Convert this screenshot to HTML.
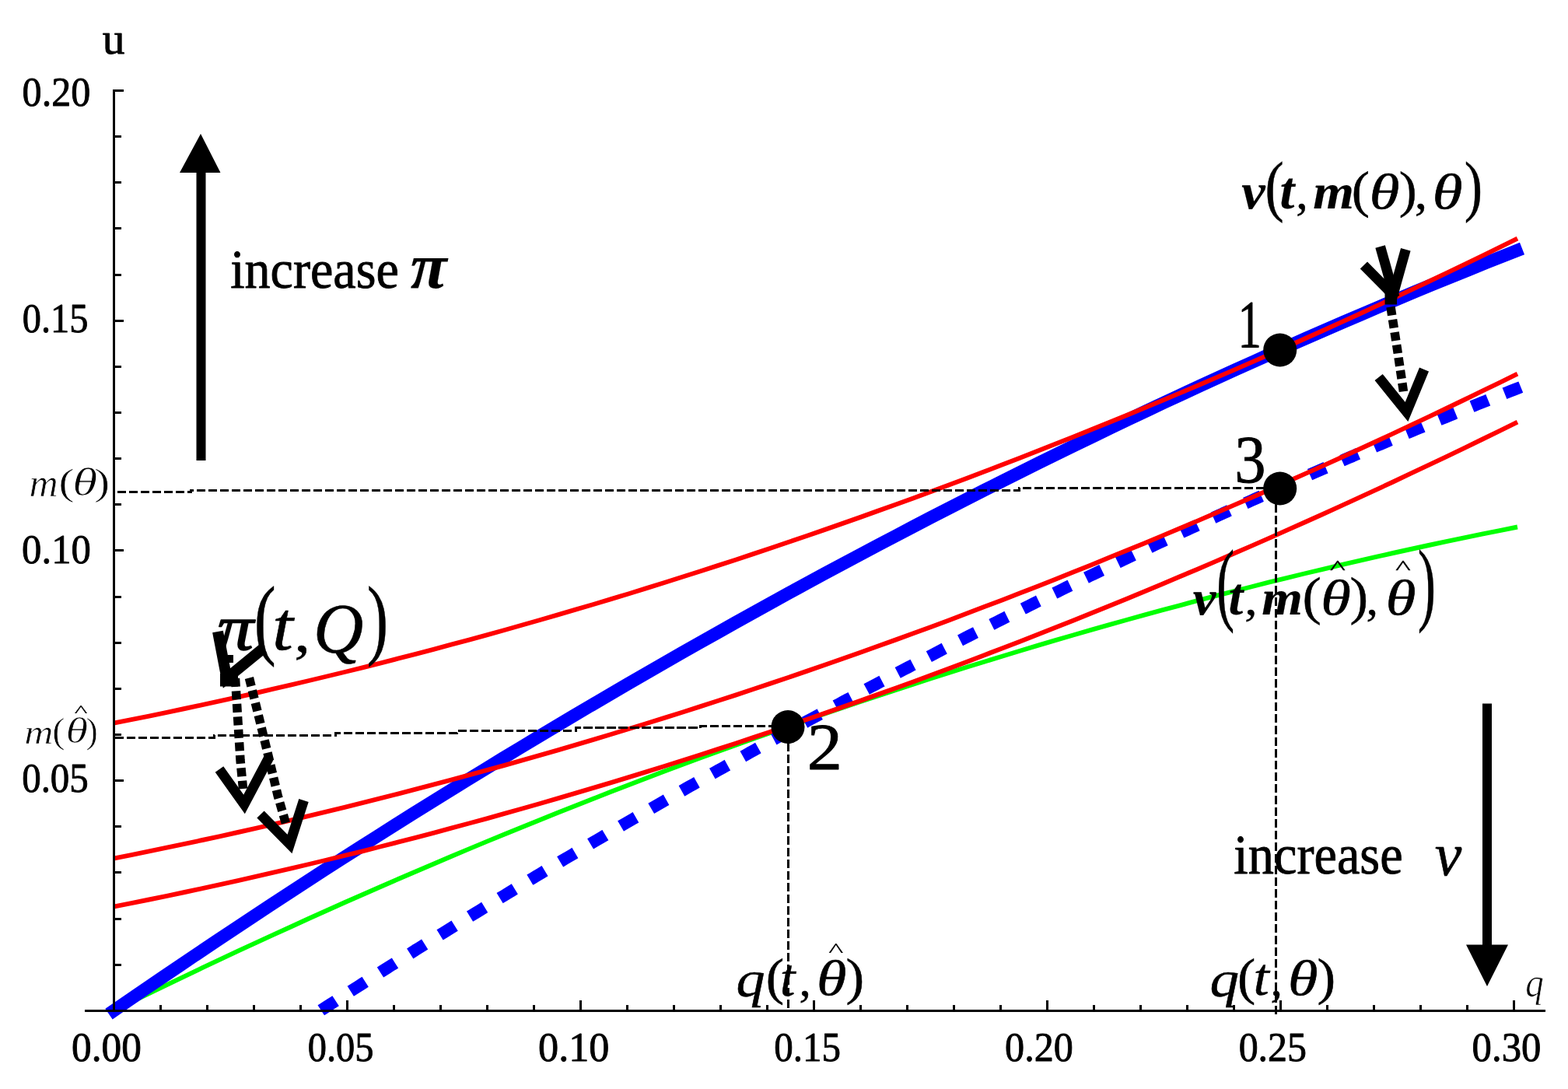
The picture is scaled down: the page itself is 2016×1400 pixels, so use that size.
<!DOCTYPE html>
<html lang="en"><head><meta charset="utf-8"><title>Figure</title>
<style>html,body{margin:0;padding:0;background:#fff;}body{width:2016px;height:1400px;overflow:hidden;}svg{display:block;}text{font-family:"Liberation Serif","DejaVu Serif",serif;fill:#000;stroke:#000;stroke-width:0.9px;stroke-linejoin:round;}.i{font-style:italic;}.bi{font-style:italic;font-weight:bold;}</style></head><body>
<svg width="2016" height="1400" viewBox="0 0 2016 1400" role="img" aria-label="Plot of u against q">
<rect width="2016" height="1400" fill="#fff"/>
<g fill="none" stroke-linecap="butt" stroke-linejoin="round">
<path d="M146.0 1299.4 L168.8 1288.2 L191.7 1277.1 L214.5 1266.1 L237.4 1255.1 L260.2 1244.2 L283.1 1233.4 L305.9 1222.7 L328.8 1212.1 L351.6 1201.6 L374.5 1191.2 L397.3 1180.8 L420.2 1170.5 L443.0 1160.3 L465.9 1150.2 L488.7 1140.2 L511.6 1130.3 L534.4 1120.5 L557.3 1110.7 L580.1 1101.0 L603.0 1091.4 L625.8 1081.9 L648.7 1072.5 L671.5 1063.2 L694.4 1053.9 L717.2 1044.8 L740.1 1035.7 L762.9 1026.7 L785.7 1017.8 L808.6 1009.0 L831.4 1000.3 L854.3 991.6 L877.1 983.1 L900.0 974.6 L922.8 966.2 L945.7 957.9 L968.5 949.7 L991.4 941.6 L1014.2 933.5 L1037.1 925.6 L1059.9 917.7 L1082.8 909.9 L1105.6 902.2 L1128.5 894.6 L1151.3 887.1 L1174.2 879.6 L1197.0 872.3 L1219.9 865.0 L1242.7 857.8 L1265.6 850.7 L1288.4 843.7 L1311.3 836.8 L1334.1 829.9 L1356.9 823.2 L1379.8 816.5 L1402.6 809.9 L1425.5 803.4 L1448.3 797.0 L1471.2 790.7 L1494.0 784.4 L1516.9 778.3 L1539.7 772.2 L1562.6 766.2 L1585.4 760.3 L1608.3 754.5 L1631.1 748.7 L1654.0 743.1 L1676.8 737.5 L1699.7 732.1 L1722.5 726.7 L1745.4 721.4 L1768.2 716.2 L1791.1 711.0 L1813.9 706.0 L1836.8 701.0 L1859.6 696.2 L1882.5 691.4 L1905.3 686.7 L1928.2 682.1 L1951.0 677.5" stroke="#00ff00" stroke-width="5.9"/>
<path d="M140.0 1303.6 L163.0 1287.8 L186.0 1272.0 L209.0 1256.4 L232.0 1240.8 L255.0 1225.3 L278.0 1209.9 L301.0 1194.6 L324.0 1179.3 L347.0 1164.2 L370.0 1149.1 L393.0 1134.1 L416.0 1119.2 L439.0 1104.4 L462.0 1089.7 L485.0 1075.1 L508.0 1060.6 L531.0 1046.1 L554.0 1031.7 L577.0 1017.5 L600.0 1003.3 L623.0 989.2 L646.0 975.1 L669.0 961.2 L692.0 947.4 L715.0 933.6 L738.0 919.9 L761.0 906.3 L784.0 892.8 L807.0 879.4 L830.0 866.1 L853.0 852.9 L876.0 839.7 L899.0 826.6 L922.0 813.7 L945.0 800.8 L968.0 788.0 L991.0 775.2 L1014.0 762.6 L1037.0 750.1 L1060.0 737.6 L1083.0 725.2 L1106.0 713.0 L1129.0 700.8 L1152.0 688.7 L1175.0 676.6 L1198.0 664.7 L1221.0 652.8 L1244.0 641.1 L1267.0 629.4 L1290.0 617.8 L1313.0 606.3 L1336.0 594.9 L1359.0 583.6 L1382.0 572.3 L1405.0 561.2 L1428.0 550.1 L1451.0 539.1 L1474.0 528.2 L1497.0 517.4 L1520.0 506.7 L1543.0 496.1 L1566.0 485.5 L1589.0 475.1 L1612.0 464.7 L1635.0 454.4 L1658.0 444.2 L1681.0 434.1 L1704.0 424.1 L1727.0 414.1 L1750.0 404.3 L1773.0 394.5 L1796.0 384.8 L1819.0 375.2 L1842.0 365.7 L1865.0 356.3 L1888.0 347.0 L1911.0 337.7 L1934.0 328.6 L1957.0 319.5" stroke="#0000ff" stroke-width="16.5"/>
<path d="M404.0 1304.4 L409.2 1301.1 L414.4 1297.7 L419.6 1294.4 L424.8 1291.0 L430.0 1287.7 L435.2 1284.3 L440.4 1281.0 L445.6 1277.7 L450.7 1274.3 L455.9 1271.0 L461.1 1267.7 L466.3 1264.4 L471.5 1261.1 L476.7 1257.8 L481.9 1254.5 L487.1 1251.2 L492.3 1247.9 L497.5 1244.6 L502.7 1241.3 L507.9 1238.1 L513.1 1234.8 L518.3 1231.5 L523.5 1228.3 L528.7 1225.0 L533.8 1221.7 L539.0 1218.5 L544.2 1215.2 L549.4 1212.0 L554.6 1208.8 L559.8 1205.5 L565.0 1202.3 L570.2 1199.1 L575.4 1195.9 L580.6 1192.7 L585.8 1189.4 L591.0 1186.2 L596.2 1183.0 L601.4 1179.8 L606.6 1176.6 L611.8 1173.5 L617.0 1170.3 L622.1 1167.1 L627.3 1163.9 L632.5 1160.8 L637.7 1157.6 L642.9 1154.4 L648.1 1151.3 L653.3 1148.1 L658.5 1145.0 L663.7 1141.8 L668.9 1138.7 L674.1 1135.6 L679.3 1132.4 L684.5 1129.3 L689.7 1126.2 L694.9 1123.1 L700.1 1119.9 L705.3 1116.8 L710.4 1113.7 L715.6 1110.6 L720.8 1107.5 L726.0 1104.4 L731.2 1101.4 L736.4 1098.3 L741.6 1095.2 L746.8 1092.1 L752.0 1089.1 L757.2 1086.0 L762.4 1082.9 L767.6 1079.9 L772.8 1076.8 L778.0 1073.8 L783.2 1070.7 L788.4 1067.7 L793.5 1064.7 L798.7 1061.6 L803.9 1058.6 L809.1 1055.6 L814.3 1052.6 L819.5 1049.6 L824.7 1046.6 L829.9 1043.6 L835.1 1040.6 L840.3 1037.6 L845.5 1034.6 L850.7 1031.6 L855.9 1028.6 L861.1 1025.7 L866.3 1022.7 L871.5 1019.7 L876.7 1016.8 L881.8 1013.8 L887.0 1010.8 L892.2 1007.9 L897.4 1005.0 L902.6 1002.0 L907.8 999.1 L913.0 996.1 L918.2 993.2 L923.4 990.3 L928.6 987.4 L933.8 984.5 L939.0 981.6 L944.2 978.7 L949.4 975.8 L954.6 972.9 L959.8 970.0 L964.9 967.1 L970.1 964.2 L975.3 961.3 L980.5 958.4 L985.7 955.6 L990.9 952.7 L996.1 949.9 L1001.3 947.0 L1006.5 944.1 L1011.7 941.3 L1016.9 938.5 L1022.1 935.6 L1027.3 932.8 L1032.5 930.0 L1037.7 927.1 L1042.9 924.3 L1048.1 921.5 L1053.2 918.7 L1058.4 915.9 L1063.6 913.1 L1068.8 910.3 L1074.0 907.5 L1079.2 904.7 L1084.4 901.9 L1089.6 899.1 L1094.8 896.4 L1100.0 893.6 L1105.2 890.8 L1110.4 888.1 L1115.6 885.3 L1120.8 882.5 L1126.0 879.8 L1131.2 877.0 L1136.4 874.3 L1141.5 871.6 L1146.7 868.8 L1151.9 866.1 L1157.1 863.4 L1162.3 860.7 L1167.5 858.0 L1172.7 855.2 L1177.9 852.5 L1183.1 849.8 L1188.3 847.1 L1193.5 844.5 L1198.7 841.8 L1203.9 839.1 L1209.1 836.4 L1214.3 833.7 L1219.5 831.1 L1224.6 828.4 L1229.8 825.7 L1235.0 823.1 L1240.2 820.4 L1245.4 817.8 L1250.6 815.1 L1255.8 812.5 L1261.0 809.9 L1266.2 807.2 L1271.4 804.6 L1276.6 802.0 L1281.8 799.4 L1287.0 796.8 L1292.2 794.1 L1297.4 791.5 L1302.6 788.9 L1307.8 786.4 L1312.9 783.8 L1318.1 781.2 L1323.3 778.6 L1328.5 776.0 L1333.7 773.4 L1338.9 770.9 L1344.1 768.3 L1349.3 765.8 L1354.5 763.2 L1359.7 760.7 L1364.9 758.1 L1370.1 755.6 L1375.3 753.0 L1380.5 750.5 L1385.7 748.0 L1390.9 745.4 L1396.1 742.9 L1401.2 740.4 L1406.4 737.9 L1411.6 735.4 L1416.8 732.9 L1422.0 730.4 L1427.2 727.9 L1432.4 725.4 L1437.6 722.9 L1442.8 720.5 L1448.0 718.0 L1453.2 715.5 L1458.4 713.0 L1463.6 710.6 L1468.8 708.1 L1474.0 705.7 L1479.2 703.2 L1484.3 700.8 L1489.5 698.3 L1494.7 695.9 L1499.9 693.5 L1505.1 691.0 L1510.3 688.6 L1515.5 686.2 L1520.7 683.8 L1525.9 681.4 L1531.1 679.0 L1536.3 676.6 L1541.5 674.2 L1546.7 671.8 L1551.9 669.4 L1557.1 667.0 L1562.3 664.7 L1567.5 662.3 L1572.6 659.9 L1577.8 657.6 L1583.0 655.2 L1588.2 652.8 L1593.4 650.5 L1598.6 648.1 L1603.8 645.8 L1609.0 643.5 L1614.2 641.1 L1619.4 638.8 L1624.6 636.5 L1629.8 634.2 L1635.0 631.8 L1640.2 629.5 L1645.4 627.2 L1650.6 624.9 L1655.7 622.6 L1660.9 620.3 L1666.1 618.0 L1671.3 615.8 L1676.5 613.5 L1681.7 611.2 L1686.9 608.9 L1692.1 606.7 L1697.3 604.4 L1702.5 602.1 L1707.7 599.9 L1712.9 597.6 L1718.1 595.4 L1723.3 593.2 L1728.5 590.9 L1733.7 588.7 L1738.9 586.5 L1744.0 584.2 L1749.2 582.0 L1754.4 579.8 L1759.6 577.6 L1764.8 575.4 L1770.0 573.2 L1775.2 571.0 L1780.4 568.8 L1785.6 566.6 L1790.8 564.4 L1796.0 562.3 L1801.2 560.1 L1806.4 557.9 L1811.6 555.8 L1816.8 553.6 L1822.0 551.4 L1827.2 549.3 L1832.3 547.1 L1837.5 545.0 L1842.7 542.9 L1847.9 540.7 L1853.1 538.6 L1858.3 536.5 L1863.5 534.3 L1868.7 532.2 L1873.9 530.1 L1879.1 528.0 L1884.3 525.9 L1889.5 523.8 L1894.7 521.7 L1899.9 519.6 L1905.1 517.5 L1910.3 515.5 L1915.4 513.4 L1920.6 511.3 L1925.8 509.2 L1931.0 507.2 L1936.2 505.1 L1941.4 503.1 L1946.6 501.0 L1951.8 499.0 L1957.0 496.9" stroke="#0000ff" stroke-width="15.5" stroke-dasharray="22.4 22.83" stroke-dashoffset="-10.4"/>
<path d="M146.0 929.7 L168.8 925.2 L191.7 920.6 L214.5 915.8 L237.4 911.0 L260.2 906.2 L283.1 901.2 L305.9 896.1 L328.8 891.0 L351.6 885.7 L374.5 880.4 L397.3 875.0 L420.2 869.5 L443.0 864.0 L465.9 858.3 L488.7 852.6 L511.6 846.7 L534.4 840.8 L557.3 834.8 L580.1 828.7 L603.0 822.6 L625.8 816.3 L648.7 810.0 L671.5 803.5 L694.4 797.0 L717.2 790.4 L740.1 783.7 L762.9 777.0 L785.7 770.1 L808.6 763.2 L831.4 756.1 L854.3 749.0 L877.1 741.8 L900.0 734.5 L922.8 727.1 L945.7 719.7 L968.5 712.1 L991.4 704.5 L1014.2 696.8 L1037.1 689.0 L1059.9 681.1 L1082.8 673.1 L1105.6 665.1 L1128.5 656.9 L1151.3 648.7 L1174.2 640.4 L1197.0 632.0 L1219.9 623.5 L1242.7 614.9 L1265.6 606.3 L1288.4 597.5 L1311.3 588.7 L1334.1 579.8 L1356.9 570.8 L1379.8 561.7 L1402.6 552.5 L1425.5 543.3 L1448.3 533.9 L1471.2 524.5 L1494.0 515.0 L1516.9 505.4 L1539.7 495.7 L1562.6 485.9 L1585.4 476.1 L1608.3 466.1 L1631.1 456.1 L1654.0 446.0 L1676.8 435.8 L1699.7 425.5 L1722.5 415.1 L1745.4 404.7 L1768.2 394.1 L1791.1 383.5 L1813.9 372.8 L1836.8 362.0 L1859.6 351.1 L1882.5 340.1 L1905.3 329.1 L1928.2 317.9 L1951.0 306.7" stroke="#ff0000" stroke-width="5.9"/>
<path d="M146.0 1103.6 L168.8 1099.1 L191.7 1094.4 L214.5 1089.7 L237.4 1084.9 L260.2 1080.0 L283.1 1075.1 L305.9 1070.0 L328.8 1064.9 L351.6 1059.6 L374.5 1054.3 L397.3 1048.9 L420.2 1043.4 L443.0 1037.8 L465.9 1032.2 L488.7 1026.4 L511.6 1020.6 L534.4 1014.7 L557.3 1008.7 L580.1 1002.6 L603.0 996.4 L625.8 990.2 L648.7 983.8 L671.5 977.4 L694.4 970.9 L717.2 964.3 L740.1 957.6 L762.9 950.8 L785.7 944.0 L808.6 937.0 L831.4 930.0 L854.3 922.9 L877.1 915.7 L900.0 908.4 L922.8 901.0 L945.7 893.6 L968.5 886.0 L991.4 878.4 L1014.2 870.7 L1037.1 862.9 L1059.9 855.0 L1082.8 847.0 L1105.6 839.0 L1128.5 830.8 L1151.3 822.6 L1174.2 814.3 L1197.0 805.9 L1219.9 797.4 L1242.7 788.8 L1265.6 780.1 L1288.4 771.4 L1311.3 762.6 L1334.1 753.7 L1356.9 744.7 L1379.8 735.6 L1402.6 726.4 L1425.5 717.1 L1448.3 707.8 L1471.2 698.4 L1494.0 688.9 L1516.9 679.3 L1539.7 669.6 L1562.6 659.8 L1585.4 649.9 L1608.3 640.0 L1631.1 630.0 L1654.0 619.8 L1676.8 609.6 L1699.7 599.4 L1722.5 589.0 L1745.4 578.5 L1768.2 568.0 L1791.1 557.4 L1813.9 546.6 L1836.8 535.8 L1859.6 525.0 L1882.5 514.0 L1905.3 502.9 L1928.2 491.8 L1951.0 480.6" stroke="#ff0000" stroke-width="5.9"/>
<path d="M146.0 1165.7 L168.8 1161.2 L191.7 1156.5 L214.5 1151.8 L237.4 1147.0 L260.2 1142.1 L283.1 1137.2 L305.9 1132.1 L328.8 1126.9 L351.6 1121.7 L374.5 1116.4 L397.3 1111.0 L420.2 1105.5 L443.0 1099.9 L465.9 1094.3 L488.7 1088.5 L511.6 1082.7 L534.4 1076.8 L557.3 1070.8 L580.1 1064.7 L603.0 1058.5 L625.8 1052.3 L648.7 1045.9 L671.5 1039.5 L694.4 1033.0 L717.2 1026.4 L740.1 1019.7 L762.9 1012.9 L785.7 1006.1 L808.6 999.1 L831.4 992.1 L854.3 985.0 L877.1 977.8 L900.0 970.5 L922.8 963.1 L945.7 955.7 L968.5 948.1 L991.4 940.5 L1014.2 932.8 L1037.1 925.0 L1059.9 917.1 L1082.8 909.1 L1105.6 901.1 L1128.5 892.9 L1151.3 884.7 L1174.2 876.4 L1197.0 868.0 L1219.9 859.5 L1242.7 850.9 L1265.6 842.2 L1288.4 833.5 L1311.3 824.7 L1334.1 815.8 L1356.9 806.8 L1379.8 797.7 L1402.6 788.5 L1425.5 779.2 L1448.3 769.9 L1471.2 760.5 L1494.0 751.0 L1516.9 741.3 L1539.7 731.7 L1562.6 721.9 L1585.4 712.0 L1608.3 702.1 L1631.1 692.1 L1654.0 681.9 L1676.8 671.7 L1699.7 661.5 L1722.5 651.1 L1745.4 640.6 L1768.2 630.1 L1791.1 619.5 L1813.9 608.7 L1836.8 597.9 L1859.6 587.1 L1882.5 576.1 L1905.3 565.0 L1928.2 553.9 L1951.0 542.7" stroke="#ff0000" stroke-width="5.9"/>
</g>
<g stroke="#000" stroke-width="3" fill="none" stroke-linecap="butt" shape-rendering="crispEdges">
<path d="M109 1299.3 H1987"/>
<path d="M146.3 115.2 V1299.3"/>
<path d="M206.3 1299.3 v-7.0 M266.3 1299.3 v-7.0 M326.4 1299.3 v-7.0 M386.4 1299.3 v-7.0 M446.4 1299.3 v-13.0 M506.4 1299.3 v-7.0 M566.4 1299.3 v-7.0 M626.5 1299.3 v-7.0 M686.5 1299.3 v-7.0 M746.5 1299.3 v-13.0 M806.5 1299.3 v-7.0 M866.5 1299.3 v-7.0 M926.6 1299.3 v-7.0 M986.6 1299.3 v-7.0 M1046.6 1299.3 v-13.0 M1106.6 1299.3 v-7.0 M1166.6 1299.3 v-7.0 M1226.7 1299.3 v-7.0 M1286.7 1299.3 v-7.0 M1346.7 1299.3 v-13.0 M1406.7 1299.3 v-7.0 M1466.7 1299.3 v-7.0 M1526.8 1299.3 v-7.0 M1586.8 1299.3 v-7.0 M1646.8 1299.3 v-13.0 M1706.8 1299.3 v-7.0 M1766.8 1299.3 v-7.0 M1826.9 1299.3 v-7.0 M1886.9 1299.3 v-7.0 M1946.9 1299.3 v-13.0 M146.3 1240.2 h10.0 M146.3 1181.0 h10.0 M146.3 1121.9 h10.0 M146.3 1062.7 h10.0 M146.3 1003.6 h13.0 M146.3 944.5 h10.0 M146.3 885.3 h10.0 M146.3 826.2 h10.0 M146.3 767.0 h10.0 M146.3 707.9 h13.0 M146.3 648.8 h10.0 M146.3 589.6 h10.0 M146.3 530.5 h10.0 M146.3 471.3 h10.0 M146.3 412.2 h13.0 M146.3 353.1 h10.0 M146.3 293.9 h10.0 M146.3 234.8 h10.0 M146.3 175.6 h10.0 M146.3 116.5 h13.0"/>
</g>
<g stroke="#000" stroke-width="3" fill="none" stroke-dasharray="11.4 3.6" shape-rendering="crispEdges">
<path d="M150.5 632.8 L245 632.8 L245 630 L1310 630 L1310 627.2 L1625 627.2"/>
<path d="M147.5 948 L275 948 L275 945 L431 945 L431 942.3 L587.5 942.3 L587.5 939.3 L740 939.3 L740 935.8 L900 935.8 L900 933 L994 933"/>
<path d="M1013 955 V1299"/>
<path d="M1640.3 648 V1306"/>
</g>
<circle cx="1645.7" cy="450.0" r="21.5" fill="#000"/>
<circle cx="1645.7" cy="628.0" r="21.5" fill="#000"/>
<circle cx="1013.0" cy="934.5" r="21.5" fill="#000"/>
<path d="M252.5 592 V222 H231 L258 172 L283.5 222 H264.5 V592 Z" fill="#000"/>
<path d="M1906 904.5 V1214.5 H1885 L1912 1268 L1939 1214.5 H1918 V904.5 Z" fill="#000"/>
<g stroke="#000" fill="none" stroke-linejoin="miter" stroke-linecap="butt" stroke-miterlimit="10">
<path d="M1788 394.5 L1796.5 449 L1805 507" stroke-width="11.5" stroke-dasharray="11 5.5"/>
<path d="M1772.6 485 L1808.5 529.5 L1831 475" stroke-width="13"/>
<path d="M1753.4 341 L1791 379 L1807.3 320.8" stroke-width="13"/>
<path d="M1774.6 317 L1793 382" stroke-width="13"/>
<path d="M1780.5 391.5 H1796 V372 H1780.5 Z" fill="#000" stroke="none"/>
<path d="M302.5 872 L306 928.6 L309 977 L312.5 1014" stroke-width="11.5" stroke-dasharray="11 5.5"/>
<path d="M320.4 871.5 L333.6 925 L345.7 974.6 L357.2 1023 L368.5 1062" stroke-width="11.5" stroke-dasharray="11 5.5"/>
<path d="M282 989 L314 1034 L345.5 974.5" stroke-width="13"/>
<path d="M335 1047 L372.5 1085 L390.5 1029" stroke-width="13"/>
<path d="M280 812 L291.5 872 L338.5 833.5" stroke-width="14"/>
<path d="M293 842 h7 v10 h-7 Z" fill="#000" stroke="none"/>
<path d="M283 882.5 H306 V866 H283 Z" fill="#000" stroke="none"/>
</g>
<text transform="translate(278.93 834.78) scale(1.1405 1)" font-size="82.34" class="i" style="stroke-width:1.5px">π</text>
<text transform="translate(326.82 832.91) scale(0.7402 1)" font-size="113.37" style="stroke-width:0.5px">(</text>
<text transform="translate(350.05 834.71) scale(1.0805 1)" font-size="89.43" class="i" style="stroke-width:0.6px">t</text>
<text transform="translate(378.18 836.68) scale(1.1740 1)" font-size="70.98" style="stroke-width:0.5px">,</text>
<text transform="translate(403.11 839.03) scale(0.9785 1)" font-size="90.91" class="i" style="stroke-width:0.6px">Q</text>
<text transform="translate(471.72 832.91) scale(0.7262 1)" font-size="113.37" style="stroke-width:0.5px">)</text>
<text transform="translate(1596.22 267.76) scale(1.0621 1)" font-size="64.47" class="bi" style="stroke-width:0.2px">v</text>
<text transform="translate(1626.54 267.69) scale(0.8375 1)" font-size="86.63" style="stroke-width:0.5px">(</text>
<text transform="translate(1645.46 267.71) scale(0.9890 1)" font-size="68.65" class="bi" style="stroke-width:0.2px">t</text>
<text transform="translate(1666.17 268.01) scale(1.0070 1)" font-size="61.57" style="stroke-width:0.5px">,</text>
<text transform="translate(1688.25 268.40) scale(1.0509 1)" font-size="64.47" class="bi" style="stroke-width:0.2px">m</text>
<text transform="translate(1737.86 266.06) scale(1.0494 1)" font-size="66.52" style="stroke-width:0.5px">(</text>
<text transform="translate(1760.76 267.76) scale(1.2297 1)" font-size="64.08" class="i" style="stroke-width:0.6px">θ</text>
<text transform="translate(1798.77 266.06) scale(1.0334 1)" font-size="66.52" style="stroke-width:0.5px">)</text>
<text transform="translate(1818.75 268.01) scale(1.0611 1)" font-size="61.57" style="stroke-width:0.5px">,</text>
<text transform="translate(1841.66 267.76) scale(1.2297 1)" font-size="64.08" class="i" style="stroke-width:0.6px">θ</text>
<text transform="translate(1882.73 267.69) scale(0.8069 1)" font-size="86.63" style="stroke-width:0.5px">)</text>
<text transform="translate(1533.63 789.57) scale(1.0657 1)" font-size="62.77" class="bi" style="stroke-width:0.2px">v</text>
<text transform="translate(1564.06 789.34) scale(0.5849 1)" font-size="119.34" style="stroke-width:0.5px">(</text>
<text transform="translate(1579.57 789.52) scale(0.9963 1)" font-size="67.77" class="bi" style="stroke-width:0.2px">t</text>
<text transform="translate(1600.15 790.41) scale(1.0961 1)" font-size="59.61" style="stroke-width:0.5px">,</text>
<text transform="translate(1622.35 790.20) scale(1.0794 1)" font-size="62.77" class="bi" style="stroke-width:0.2px">m</text>
<text transform="translate(1674.42 788.72) scale(1.0929 1)" font-size="66.74" style="stroke-width:0.5px">(</text>
<text transform="translate(1698.27 789.57) scale(1.2395 1)" font-size="63.38" class="i" style="stroke-width:0.6px">θ</text>
<text transform="translate(1709.97 738.22) scale(1.6569 1)" font-size="25.38" style="stroke-width:0.4px">^</text>
<text transform="translate(1735.60 788.72) scale(1.0590 1)" font-size="66.74" style="stroke-width:0.5px">)</text>
<text transform="translate(1756.38 790.41) scale(1.0401 1)" font-size="59.61" style="stroke-width:0.5px">,</text>
<text transform="translate(1781.66 789.57) scale(1.2433 1)" font-size="63.38" class="i" style="stroke-width:0.6px">θ</text>
<text transform="translate(1794.28 738.22) scale(1.6300 1)" font-size="25.38" style="stroke-width:0.4px">^</text>
<text transform="translate(1822.73 789.34) scale(0.5858 1)" font-size="119.34" style="stroke-width:0.5px">)</text>
<text transform="translate(946.39 1280.81) scale(1.1343 1)" font-size="65.35" class="i" style="stroke-width:0.5px">q</text>
<text transform="translate(984.84 1277.81) scale(1.0659 1)" font-size="65.86" style="stroke-width:0.5px">(</text>
<text transform="translate(1002.71 1279.81) scale(1.0327 1)" font-size="68.65" class="i" style="stroke-width:0.5px">t</text>
<text transform="translate(1027.40 1279.89) scale(1.0497 1)" font-size="58.43" style="stroke-width:0.5px">,</text>
<text transform="translate(1050.08 1279.27) scale(1.2441 1)" font-size="62.96" class="i" style="stroke-width:0.5px">θ</text>
<text transform="translate(1065.29 1230.46) scale(1.6594 1)" font-size="24.52" style="stroke-width:0.2px">^</text>
<text transform="translate(1087.39 1277.81) scale(1.0791 1)" font-size="65.86" style="stroke-width:0.5px">)</text>
<text transform="translate(1555.46 1280.81) scale(1.1481 1)" font-size="65.35" class="i" style="stroke-width:0.5px">q</text>
<text transform="translate(1590.96 1277.81) scale(1.0599 1)" font-size="65.86" style="stroke-width:0.5px">(</text>
<text transform="translate(1611.62 1279.22) scale(1.0780 1)" font-size="67.60" class="i" style="stroke-width:0.5px">t</text>
<text transform="translate(1633.38 1279.89) scale(1.0611 1)" font-size="58.43" style="stroke-width:0.5px">,</text>
<text transform="translate(1656.07 1279.27) scale(1.2479 1)" font-size="62.96" class="i" style="stroke-width:0.5px">θ</text>
<text transform="translate(1693.49 1277.81) scale(1.0791 1)" font-size="65.86" style="stroke-width:0.5px">)</text>
<text transform="translate(1961.17 1280.52) scale(0.8936 1)" font-size="52.60" class="i" style="stroke:#fff;stroke-width:0.7px">q</text>
<text transform="translate(37.47 637.50) scale(1.0217 1)" font-size="50.43" class="i" style="stroke:#fff;stroke-width:0.7px">m</text>
<text transform="translate(75.33 635.87) scale(1.2549 1)" font-size="49.06" style="stroke:#fff;stroke-width:0.7px">(</text>
<text transform="translate(93.01 637.00) scale(1.3137 1)" font-size="50.14" class="i" style="stroke:#fff;stroke-width:0.7px">θ</text>
<text transform="translate(121.12 635.87) scale(1.2428 1)" font-size="49.06" style="stroke:#fff;stroke-width:0.7px">)</text>
<text transform="translate(31.16 955.60) scale(1.1790 1)" font-size="43.83" class="i" style="stroke:#fff;stroke-width:0.7px">m</text>
<text transform="translate(67.19 955.16) scale(1.0588 1)" font-size="46.30" style="stroke:#fff;stroke-width:0.7px">(</text>
<text transform="translate(84.58 955.14) scale(1.2768 1)" font-size="45.77" class="i" style="stroke:#fff;stroke-width:0.7px">θ</text>
<text transform="translate(95.77 920.74) scale(1.7539 1)" font-size="20.22" style="stroke-width:0.2px">^</text>
<text transform="translate(110.40 955.16) scale(0.9982 1)" font-size="46.30" style="stroke:#fff;stroke-width:0.7px">)</text>
<text transform="translate(296.18 369.70) scale(0.9385 1)" font-size="70.48">increase</text>
<text transform="translate(527.86 369.58) scale(1.0491 1)" font-size="81.70" class="bi" style="stroke-width:0.2px">π</text>
<text transform="translate(1586.37 1122.79) scale(0.9313 1)" font-size="71.23">increase</text>
<text transform="translate(1844.83 1124.71) scale(0.9867 1)" font-size="78.72" class="i" style="stroke-width:0.6px">v</text>
<text transform="translate(131.78 68.93) scale(1.0000 1)" font-size="57.45">u</text>
<text transform="translate(1591.59 446.10) scale(0.6920 1)" font-size="87.73">1</text>
<text transform="translate(1587.28 619.54) scale(0.9348 1)" font-size="86.10">3</text>
<text transform="translate(1037.63 988.60) scale(1.0593 1)" font-size="85.43">2</text>
<text transform="translate(28.62 135.61) scale(0.9473 1)" font-size="52.94">0.20</text>
<text transform="translate(28.68 427.21) scale(0.9148 1)" font-size="52.94">0.15</text>
<text transform="translate(28.10 724.01) scale(0.9585 1)" font-size="52.94">0.10</text>
<text transform="translate(28.16 1018.01) scale(0.9327 1)" font-size="52.50">0.05</text>
<text transform="translate(92.07 1363.72) scale(0.9835 1)" font-size="52.21">0.00</text>
<text transform="translate(395.68 1363.72) scale(0.9277 1)" font-size="52.21">0.05</text>
<text transform="translate(692.04 1363.72) scale(1.0006 1)" font-size="52.21">0.10</text>
<text transform="translate(995.16 1363.72) scale(0.9391 1)" font-size="52.21">0.15</text>
<text transform="translate(1292.12 1363.72) scale(0.9606 1)" font-size="52.21">0.20</text>
<text transform="translate(1592.63 1363.72) scale(0.9563 1)" font-size="52.21">0.25</text>
<text transform="translate(1892.60 1363.72) scale(0.9720 1)" font-size="52.21">0.30</text>
</svg></body></html>
